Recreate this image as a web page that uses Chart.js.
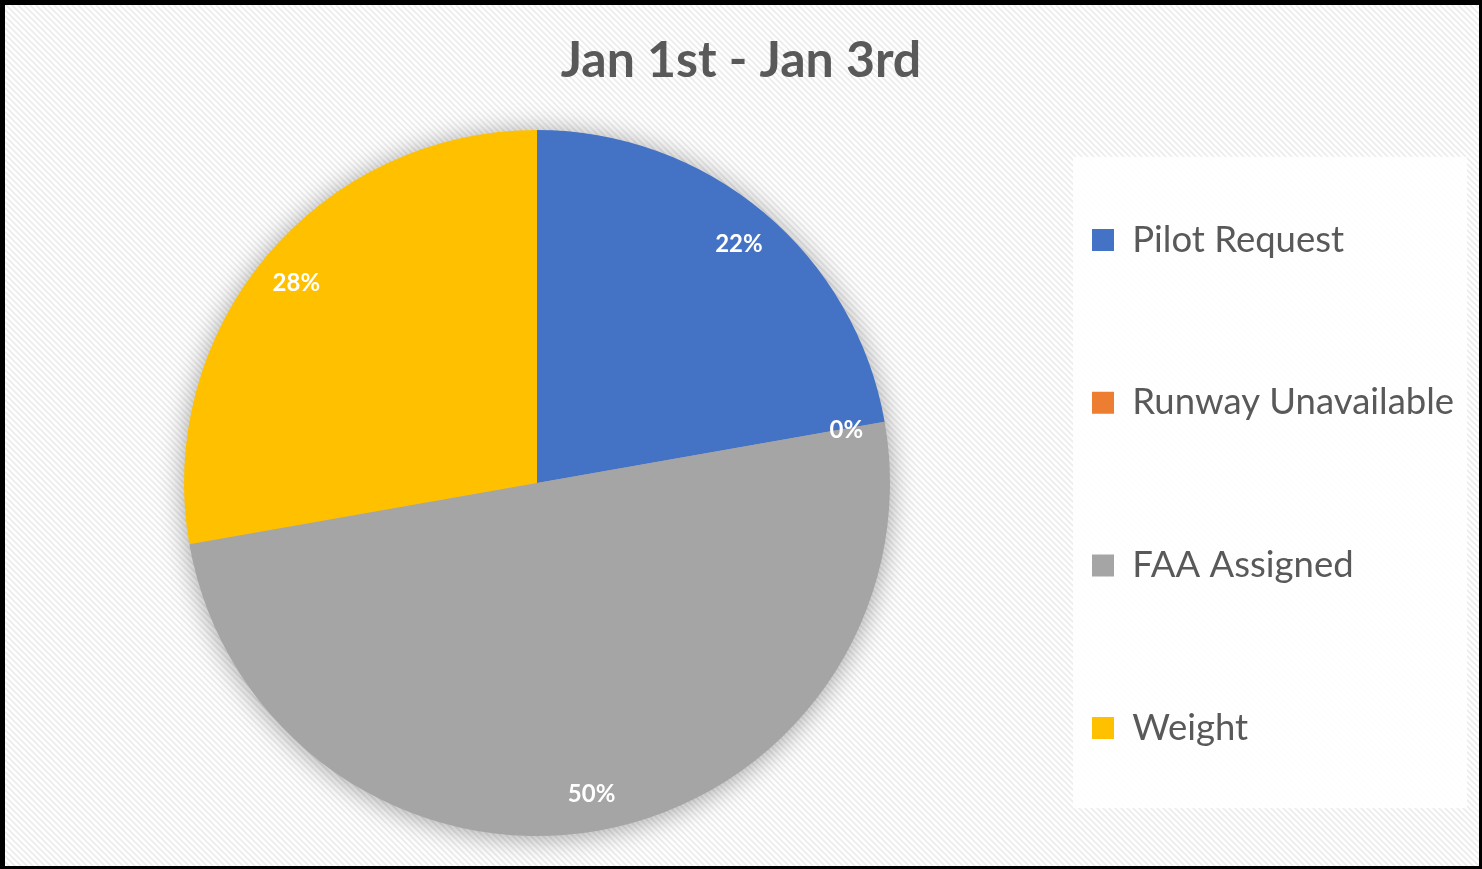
<!DOCTYPE html>
<html>
<head>
<meta charset="utf-8">
<script src="https://cdn.jsdelivr.net/npm/chart.js@4/dist/chart.umd.min.js"></script>
<style>
html, body { margin: 0; padding: 0; }
body { width: 1482px; height: 869px; overflow: hidden; position: relative; background-color: #ffffff; }
#c { position: absolute; left: 0; top: 0; }
#frame {
  position: absolute; left: 0; top: 0; width: 1482px; height: 869px; box-sizing: border-box;
  border-style: solid; border-color: #000; border-width: 5px 3px 3px 5px; pointer-events: none;
}
</style>
</head>
<body>
<canvas id="c" width="1482" height="869"></canvas>
<div id="frame"></div>
<script>
// ---- data ----
const chartTitle = 'Jan 1st - Jan 3rd';
const categories = ['Pilot Request', 'Runway Unavailable', 'FAA Assigned', 'Weight'];
const counts = [8, 0, 18, 10];
const sliceColors = ['#4472C4', '#ED7D31', '#A5A5A5', '#FFC000'];

// ---- layout / style ----
const W = 1482, H = 869;
const FONT = 'Lato';
const TEXT_COLOR = '#595959';
const PIE_CX = 537, PIE_CY = 483, PIE_R = 353;
const TITLE_FS = 50, TITLE_LH = 1.2, TITLE_MID = 61, TITLE_CX = 741;
const LEG_FS = 36.5, LEG_BOX = 22, LEG_BOX_X = 1092;
const LEG_FIRST_MID = 240, LEG_STEP = 162.7;
const LABEL_FS = 24, LABEL_POS = 0.89;

// striped background tile
(function () {
  const t = document.createElement('canvas');
  t.width = 6; t.height = 6;
  const g = t.getContext('2d');
  g.fillStyle = '#ffffff'; g.fillRect(0, 0, 6, 6);
  for (let y = 0; y < 6; y++) for (let x = 0; x < 6; x++) {
    const k = ((x - y) % 6 + 6) % 6;
    if (k < 3) { g.fillStyle = k === 1 ? '#ebebeb' : '#f2f2f2'; g.fillRect(x, y, 1, 1); }
  }
  document.body.style.backgroundImage = `url(${t.toDataURL()})`;
})();

// title box height so that chart area is centred on PIE_CY
const titleBoxH = 2 * PIE_CY - H;
const titleLinePx = TITLE_FS * TITLE_LH;
const titlePadTop = TITLE_MID - titleLinePx / 2;
const titlePadBottom = titleBoxH - titlePadTop - titleLinePx;

// legend geometry
const mctx = document.createElement('canvas').getContext('2d');
mctx.font = `${LEG_FS}px ${FONT}`;
const maxTextW = Math.max(...categories.map(c => mctx.measureText(c).width));
const colW = LEG_BOX + LEG_FS / 2 + maxTextW;
// title centre = PIE_CX + legendWidth/2  ->  legend width fixed by title centre
const legendWidth = 2 * (TITLE_CX - PIE_CX);
const LEG_PAD = legendWidth - colW - 10;
const legendLeft = LEG_BOX_X - LEG_PAD;
const padLeft = 2 * PIE_CX - legendLeft;
const padRight = W - (legendLeft + legendWidth);
const legendTitleH = (LEG_FIRST_MID - LEG_FS / 2) - LEG_PAD;
const legendLinePx = LEG_STEP - LEG_PAD;

const total = counts.reduce((a, b) => a + b, 0);

const pieShadow = {
  id: 'pieShadow',
  beforeDatasetsDraw(chart) {
    const arc = chart.getDatasetMeta(0).data[0];
    if (!arc) return;
    const ctx = chart.ctx;
    ctx.save();
    ctx.shadowColor = 'rgba(0,0,0,0.38)';
    ctx.shadowBlur = 28;
    ctx.shadowOffsetX = 0;
    ctx.shadowOffsetY = 2;
    ctx.fillStyle = '#a5a5a5';
    ctx.beginPath();
    ctx.arc(arc.x, arc.y, arc.outerRadius - 1, 0, Math.PI * 2);
    ctx.fill();
    ctx.restore();
  }
};

const legendBg = {
  id: 'legendBg',
  beforeDraw(chart) {
    const lg = chart.legend;
    if (!lg || !lg.legendHitBoxes || !lg.legendHitBoxes.length) return;
    const hb = lg.legendHitBoxes;
    const top = hb[0].top - 65;
    const bottom = hb[hb.length - 1].top + LEG_FS / 2 + 80;
    const left = hb[0].left - 19;
    const ctx = chart.ctx;
    ctx.save();
    ctx.fillStyle = 'rgba(255,255,255,0.88)';
    ctx.fillRect(left, top, 394, bottom - top);
    ctx.restore();
  }
};

const sliceLabels = {
  id: 'sliceLabels',
  afterDatasetsDraw(chart) {
    const meta = chart.getDatasetMeta(0);
    const ctx = chart.ctx;
    ctx.save();
    ctx.font = `bold ${LABEL_FS}px ${FONT}`;
    ctx.fillStyle = '#ffffff';
    ctx.textAlign = 'center';
    ctx.textBaseline = 'middle';
    meta.data.forEach((arc, i) => {
      const p = arc.getProps(['x', 'y', 'startAngle', 'endAngle', 'outerRadius'], true);
      const mid = (p.startAngle + p.endAngle) / 2;
      const r = p.outerRadius * LABEL_POS;
      const pct = Math.round(counts[i] / total * 100) + '%';
      ctx.fillText(pct, p.x + Math.cos(mid) * r, p.y + Math.sin(mid) * r + 2);
    });
    ctx.restore();
  }
};

Chart.defaults.font.family = FONT;

new Chart(document.getElementById('c'), {
  type: 'pie',
  data: {
    labels: categories,
    datasets: [{
      data: counts,
      backgroundColor: sliceColors,
      borderWidth: 0,
      radius: PIE_R
    }]
  },
  options: {
    responsive: false,
    animation: false,
    devicePixelRatio: 1,
    layout: { padding: { top: 0, bottom: 0, left: padLeft, right: padRight } },
    plugins: {
      tooltip: { enabled: false },
      title: {
        display: true,
        text: chartTitle,
        color: TEXT_COLOR,
        font: { family: FONT, size: TITLE_FS, weight: 'bold', lineHeight: TITLE_LH },
        padding: { top: titlePadTop, bottom: titlePadBottom }
      },
      legend: {
        display: true,
        position: 'right',
        align: 'start',
        fullSize: true,
        title: {
          display: true,
          text: '',
          font: { size: 10, lineHeight: 1 },
          padding: { top: legendTitleH - 10, bottom: 0 }
        },
        labels: {
          color: TEXT_COLOR,
          boxWidth: LEG_BOX,
          boxHeight: LEG_BOX,
          padding: LEG_PAD,
          font: { family: FONT, size: LEG_FS, lineHeight: legendLinePx / LEG_FS },
          generateLabels(chart) {
            const ds = chart.data.datasets[0];
            return chart.data.labels.map((label, i) => ({
              text: i < chart.data.labels.length - 1 ? [label] : label,
              fillStyle: ds.backgroundColor[i],
              strokeStyle: ds.backgroundColor[i],
              fontColor: TEXT_COLOR,
              lineWidth: 0,
              hidden: false,
              index: i
            }));
          }
        }
      }
    }
  },
  plugins: [legendBg, pieShadow, sliceLabels]
});
</script>
</body>
</html>
